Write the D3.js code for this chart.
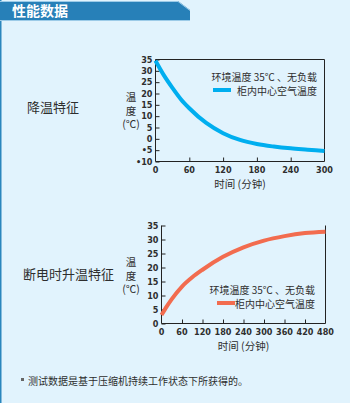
<!DOCTYPE html>
<html><head><meta charset="utf-8">
<script src="https://cdn.jsdelivr.net/npm/d3@7"></script>
<style>
html,body{margin:0;padding:0;background:#e1f3fd;}
svg{display:block;}
</style></head><body>
<svg id="c" width="350" height="403"></svg>
<script>
const title = "性能数据";
const cat1Label = "降温特征";
const cat2Label = "断电时升温特征";
const yLabelLines = ["温", "度", "(℃)"];
const legendTitle = "环境温度 35℃ 、无负载";
const legendSeries = "柜内中心空气温度";
const xTitle = "时间 (分钟)";
const footnote = "测试数据是基于压缩机持续工作状态下所获得的。";

const coolTime = [0, 15, 30, 45, 60, 90, 120, 150, 180, 210, 240, 270, 300];
const coolTemp = [34.5, 28, 22.5, 17.5, 13.5, 7, 2.5, -0.5, -2.3, -3.4, -4.2, -4.8, -5.4];
const coolYTicks = [35, 30, 25, 20, 15, 10, 5, 0, -5, -10];
const coolXTicks = [0, 60, 120, 180, 240, 300];

const warmTime = [0, 15, 30, 60, 90, 120, 180, 240, 300, 360, 420, 480];
const warmTemp = [3, 6, 8.7, 13.2, 16.5, 19.2, 23.8, 27.2, 29.6, 31.2, 32.3, 32.8];
const warmYTicks = [35, 30, 25, 20, 15, 10, 5, 0];
const warmXTicks = [0, 60, 120, 180, 240, 300, 360, 420, 480];

const svg = d3.select("#c");
const tickFont = "'Liberation Sans Narrow','DejaVu Sans Condensed','Liberation Sans',sans-serif";
const cjk = "'Noto Sans CJK SC',sans-serif";
const textCol = "#2e2e2e";

// background & left edge
svg.append("rect").attr("x",0).attr("y",0).attr("width",350).attr("height",403).attr("fill","#e1f3fd");
svg.append("rect").attr("x",0).attr("y",0).attr("width",1.5).attr("height",403).attr("fill","#2a86bd");

// header bar
svg.append("path").attr("d","M0,1 L178,1 L190,10 L190,20 L0,20 Z").attr("fill","#2780b8");
svg.append("path").attr("d","M0,1.5 L178,1.5 L190,10.5").attr("fill","none").attr("stroke","#9ccbe8").attr("stroke-width",1);
svg.append("line").attr("x1",0).attr("x2",190).attr("y1",20.5).attr("y2",20.5).attr("stroke","#9ccbe8").attr("stroke-width",1);
svg.append("text").attr("x",12).attr("y",16).attr("fill","#fff").attr("font-family",cjk)
  .attr("font-weight","bold").attr("font-size",14).text(title);

function drawChart(opt){
  const g = svg.append("g");
  const x = d3.scaleLinear().domain(opt.xDomain).range([opt.left, opt.right]);
  const y = d3.scaleLinear().domain(opt.yDomain).range([opt.bottom, opt.top]);
  // frame lines
  const fr = g.append("g").attr("stroke","#222").attr("stroke-width",1).attr("fill","none");
  fr.append("line").attr("x1",opt.left).attr("x2",opt.left).attr("y1",opt.top).attr("y2",opt.bottom);
  fr.append("line").attr("x1",opt.left).attr("x2",opt.right).attr("y1",opt.bottom).attr("y2",opt.bottom);
  fr.append("line").attr("x1",opt.right).attr("x2",opt.right).attr("y1",opt.top).attr("y2",opt.bottom);
  if (opt.topLine) fr.append("line").attr("x1",opt.left).attr("x2",opt.right).attr("y1",opt.top).attr("y2",opt.top);

  // y axis ticks (inward)
  const ya = d3.axisRight(y).tickValues(opt.yTicks).tickSize(4).tickFormat("");
  g.append("g").attr("transform",`translate(${opt.left},0)`).call(ya)
    .call(s=>{s.select(".domain").remove(); s.selectAll("line").attr("stroke","#222");});
  g.append("g").selectAll("text").data(opt.yTicks).join("text")
    .attr("x", opt.left-3).attr("y", d=>y(d)+3).attr("text-anchor","end")
    .attr("font-family",tickFont).attr("font-weight","bold").attr("font-size",9).attr("fill",textCol)
    .text(d=> d<0 ? "•"+Math.abs(d) : d);

  // x axis ticks (inward)
  const xa = d3.axisTop(x).tickValues(opt.xTicks.filter(d=>d!==opt.xDomain[0] && d!==opt.xDomain[1])).tickSize(4).tickFormat("");
  g.append("g").attr("transform",`translate(0,${opt.bottom})`).call(xa)
    .call(s=>{s.select(".domain").remove(); s.selectAll("line").attr("stroke","#222");});
  g.append("g").selectAll("text").data(opt.xTicks).join("text")
    .attr("x", d=>x(d)).attr("y", opt.bottom+11).attr("text-anchor","middle")
    .attr("font-family",tickFont).attr("font-weight","bold").attr("font-size",9).attr("fill",textCol)
    .text(d=>d);

  // curve
  const line = d3.line().x((d,i)=>x(opt.xs[i])).y(d=>y(d)).curve(d3.curveMonotoneX);
  g.append("path").datum(opt.ys).attr("d",line).attr("fill","none")
    .attr("stroke",opt.color).attr("stroke-width",4).attr("stroke-linecap","butt");

  // legend
  g.append("text").attr("x",opt.legX).attr("y",opt.legY).attr("text-anchor","end")
    .attr("font-family",cjk).attr("font-size",10).attr("fill",textCol).text(legendTitle);
  g.append("text").attr("x",opt.legX).attr("y",opt.legY+13.5).attr("text-anchor","end")
    .attr("font-family",cjk).attr("font-size",10).attr("fill",textCol).text(legendSeries);
  g.append("line").attr("x1",opt.legLineX1).attr("x2",opt.legLineX1+18)
    .attr("y1",opt.legY+9).attr("y2",opt.legY+9).attr("stroke",opt.color).attr("stroke-width",4);

  // y label
  g.append("g").selectAll("text").data(yLabelLines).join("text")
    .attr("x",opt.yLabX).attr("y",(d,i)=>opt.yLabY+i*13.5).attr("text-anchor","middle")
    .attr("font-family",cjk).attr("font-size",10.5).attr("fill",textCol).text(d=>d);

  // x title
  g.append("text").attr("x",(opt.left+opt.right)/2).attr("y",opt.bottom+26).attr("text-anchor","middle")
    .attr("font-family",cjk).attr("font-size",10.5).attr("fill",textCol).text(xTitle);

  // category label
  g.append("text").attr("x",opt.catX).attr("y",opt.catY)
    .attr("font-family",cjk).attr("font-size",13).attr("fill",textCol).text(opt.cat);
}

drawChart({xDomain:[0,300], yDomain:[-10,35], left:155.5, right:324.5, top:59.5, bottom:161.5, topLine:true,
  yTicks:coolYTicks, xTicks:coolXTicks, xs:coolTime, ys:coolTemp, color:"#00aeef",
  legX:317, legY:81, legLineX1:213, yLabX:131, yLabY:101, catX:27, catY:112, cat:cat1Label});

drawChart({xDomain:[0,480], yDomain:[0,35], left:161.5, right:325.5, top:225.5, bottom:323.5, topLine:false,
  yTicks:warmYTicks, xTicks:warmXTicks, xs:warmTime, ys:warmTemp, color:"#f26c4f",
  legX:315, legY:294, legLineX1:217, yLabX:131, yLabY:266, catX:23, catY:279, cat:cat2Label});

// footnote
svg.append("rect").attr("x",21).attr("y",378).attr("width",3).attr("height",3).attr("fill","#666");
svg.append("text").attr("x",28).attr("y",385).attr("font-family",cjk).attr("font-size",10)
  .attr("fill",textCol).text(footnote);
</script>
</body></html>
